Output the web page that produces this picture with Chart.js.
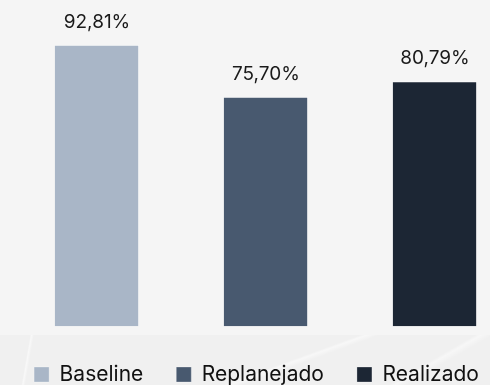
<!DOCTYPE html>
<html>
<head>
<meta charset="utf-8">
<script src="https://cdn.jsdelivr.net/npm/chart.js@4/dist/chart.umd.min.js"></script>
<style>
  html, body { margin: 0; padding: 0; overflow: hidden; background: #f5f5f5; }
  #wrap { position: absolute; left: 0; top: 0; width: 513px; height: 395px; }
  #band {
    position: absolute; left: 0; top: 335px; width: 490px; height: 60px;
    background:
      linear-gradient(100deg, transparent 0 6%, rgba(255,255,255,0.55) 6.3%, transparent 6.8%),
      linear-gradient(160deg, transparent 0 55%, rgba(255,255,255,0.5) 56%, transparent 58%),
      linear-gradient(150deg, transparent 0 80%, rgba(255,255,255,0.45) 81%, transparent 83%),
      #f0f0f0;
  }
</style>
</head>
<body>
<div id="band"></div>
<div id="wrap"><canvas id="resultado_chart"></canvas></div>
<script>
var series_labels = ["Baseline", "Replanejado", "Realizado"];
var series_values = [92.81, 75.70, 80.79];
var series_colors = ["#a9b6c7", "#48596f", "#1c2634"];

var font_family = "Inter, 'Open Sans', sans-serif";

var format_pct = (v) => v.toFixed(2).replace(".", ",") + "%";

// one dataset per series, each sitting on its own slot of the x axis
var build_datasets = () => {
    return series_labels.map((label, i) => ({
        label: label,
        data: [{ x: i, y: series_values[i] }],
        backgroundColor: series_colors[i],
        borderColor: "rgba(255,255,255,0.55)",
        borderWidth: { top: 1, right: 1, bottom: 0, left: 0 },
        borderSkipped: false,
        barPercentage: 0.5,
        categoryPercentage: 1,
        grouped: false
    }));
};

// value text above each bar
var value_labels = {
    id: "value_labels",
    afterDatasetsDraw: (chart) => {
        var ctx = chart.ctx;
        ctx.save();
        ctx.font = "19px " + font_family;
        ctx.fillStyle = "#1a1a1a";
        ctx.textAlign = "center";
        ctx.textBaseline = "alphabetic";
        chart.data.datasets.forEach((ds, i) => {
            var meta = chart.getDatasetMeta(i);
            meta.data.forEach((bar, j) => {
                ctx.fillText(format_pct(ds.data[j].y), bar.x, bar.y - 17);
            });
        });
        ctx.restore();
    }
};

var create_chart = (canva) => {
    var config = {
        type: "bar",
        data: { datasets: build_datasets() },
        options: {
            responsive: true,
            maintainAspectRatio: false,
            animation: false,
            layout: { padding: { top: 23, left: 0, right: 0, bottom: 0 } },
            scales: {
                x: {
                    type: "linear",
                    min: -0.574,
                    max: 2.462,
                    bounds: "data",
                    offset: false,
                    display: false,
                    // one tick per series slot
                    afterBuildTicks: (scale) => {
                        scale.ticks = series_labels.map((l, i) => ({ value: i }));
                    }
                },
                y: { min: -1.6, max: 100, display: false }
            },
            plugins: {
                legend: {
                    position: "bottom",
                    labels: {
                        boxWidth: 15,
                        boxHeight: 15,
                        padding: 33,
                        color: "#111",
                        font: { family: font_family, size: 21 }
                    }
                },
                tooltip: { enabled: false }
            }
        },
        plugins: [value_labels]
    };
    return new Chart(canva, config);
};

create_chart(document.getElementById("resultado_chart"));
</script>
</body>
</html>
